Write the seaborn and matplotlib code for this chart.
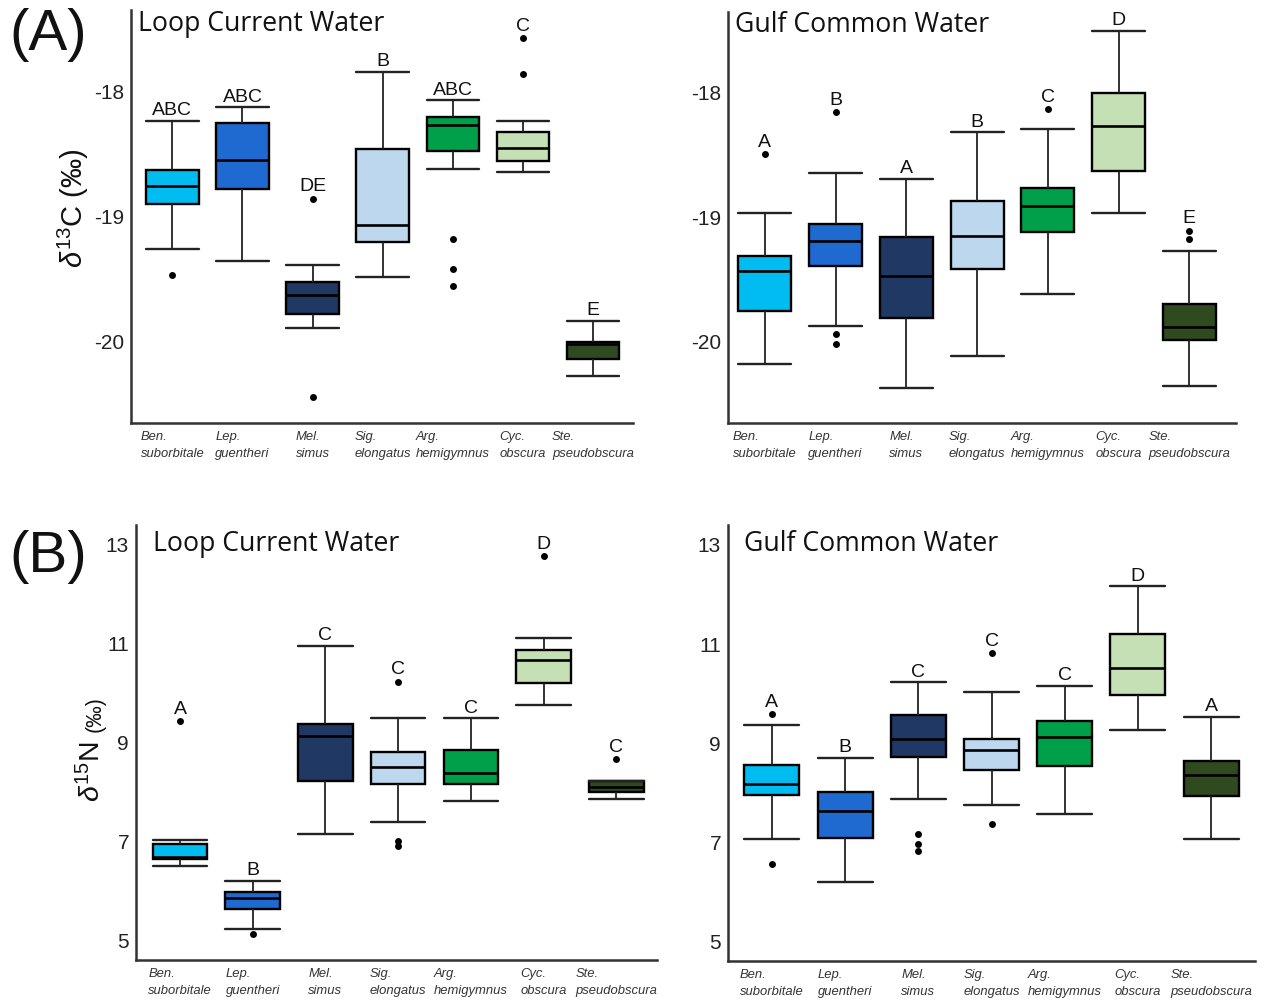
import numpy as np
import pandas as pd
import matplotlib
matplotlib.use("Agg")
import matplotlib.pyplot as plt
import seaborn as sns
from matplotlib import font_manager as fm

# ---------------- data ----------------
species = ["Ben.\nsuborbitale", "Lep.\nguentheri", "Mel.\nsimus", "Sig.\nelongatus",
           "Arg.\nhemigymnus", "Cyc.\nobscura", "Ste.\npseudobscura"]
colors = ["#00BCF0", "#1F6AD0", "#203864", "#BDD7EE", "#00A04B", "#C5E0B4", "#2F4A1E"]

# (A) d13C, Loop Current Water
c_lcw_lo = [-19.257, -19.358, -19.890, -19.479, -18.615, -18.644, -20.273]
c_lcw_q1 = [-18.895, -18.781, -19.783, -19.203, -18.476, -18.556, -20.139]
c_lcw_med = [-18.757, -18.548, -19.626, -19.070, -18.262, -18.452, -20.019]
c_lcw_q3 = [-18.630, -18.249, -19.519, -18.455, -18.200, -18.321, -20.000]
c_lcw_hi = [-18.233, -18.123, -19.390, -17.840, -18.067, -18.233, -19.832]
c_lcw_out = {0: [-19.465], 2: [-18.856, -20.440], 4: [-19.176, -19.417, -19.559],
             5: [-17.572, -17.858]}
c_lcw_letters = ["ABC", "ABC", "DE", "B", "ABC", "C", "E"]

# (A) d13C, Gulf Common Water
c_gcw_lo = [-20.182, -19.874, -20.375, -20.115, -19.620, -18.969, -20.356]
c_gcw_q1 = [-19.754, -19.390, -19.807, -19.419, -19.116, -18.629, -19.987]
c_gcw_med = [-19.432, -19.191, -19.473, -19.151, -18.908, -18.265, -19.885]
c_gcw_q3 = [-19.312, -19.055, -19.157, -18.870, -18.768, -18.005, -19.700]
c_gcw_hi = [-18.969, -18.648, -18.691, -18.319, -18.295, -17.502, -19.269]
c_gcw_out = {0: [-18.495], 1: [-18.153, -19.941, -20.021], 4: [-18.134],
             6: [-19.108, -19.173]}
c_gcw_letters = ["A", "B", "A", "B", "C", "D", "E"]

# (B) d15N, Loop Current Water
n_lcw_lo = [6.497, 5.230, 7.144, 7.380, 7.811, 9.752, 7.852]
n_lcw_q1 = [6.632, 5.635, 8.216, 8.148, 8.155, 10.190, 7.993]
n_lcw_med = [6.686, 5.844, 9.132, 8.505, 8.384, 10.662, 8.088]
n_lcw_q3 = [6.942, 5.965, 9.375, 8.795, 8.842, 10.864, 8.222]
n_lcw_hi = [7.023, 6.194, 10.951, 9.489, 9.482, 11.113, 8.222]
n_lcw_out = {0: [9.422], 1: [5.116], 3: [10.224, 7.003, 6.902], 5: [12.764], 6: [8.654]}
n_lcw_letters = ["A", "B", "C", "C", "C", "D", "C"]

# (B) d15N, Gulf Common Water
n_gcw_lo = [7.060, 6.201, 7.866, 7.752, 7.577, 9.262, 7.060]
n_gcw_q1 = [7.966, 7.094, 8.718, 8.470, 8.537, 9.980, 7.933]
n_gcw_med = [8.188, 7.644, 9.094, 8.872, 9.121, 10.510, 8.369]
n_gcw_q3 = [8.557, 8.013, 9.577, 9.094, 9.443, 11.208, 8.651]
n_gcw_hi = [9.362, 8.705, 10.228, 10.027, 10.161, 12.161, 9.530]
n_gcw_out = {0: [9.591, 6.557], 2: [7.161, 6.973, 6.826], 3: [10.819, 7.376]}
n_gcw_letters = ["A", "B", "C", "C", "C", "D", "A"]

c_ticks = [-20, -19, -18]
n_ticks = [5, 7, 9, 11, 13]

# ---------------- style ----------------
sns.set_style("white")
names = {f.name for f in fm.fontManager.ttflist}
narrow = "Liberation Sans Narrow" if "Liberation Sans Narrow" in names else "Liberation Sans"
plt.rcParams["font.family"] = ["Liberation Sans", "DejaVu Sans"]
plt.rcParams["mathtext.fontset"] = "custom"
plt.rcParams["mathtext.rm"] = "Liberation Sans"
plt.rcParams["mathtext.it"] = "Liberation Sans:italic"
title_font = "Open Sans" if "Open Sans" in names else "Liberation Sans"
xl_size = 11 if narrow != "Liberation Sans" else 9.4

W, H = 1268, 1002
fig = plt.figure(figsize=(W / 100, H / 100), dpi=100)


def rect(l, t, r, b):
    return [l / W, 1 - b / H, (r - l) / W, (b - t) / H]


def fx(x):
    return x / W


def fy(y):
    return 1 - y / H


def build(lo, q1, med, q3, hi):
    rows = []
    for sp, a, b, c, d, e in zip(species, lo, q1, med, q3, hi):
        for v in (a, b, b, c, d, d, e):
            rows.append((sp, v))
    return pd.DataFrame(rows, columns=["species", "value"])


def build_out(out):
    rows = [(species[i], v) for i, vals in out.items() for v in vals]
    return pd.DataFrame(rows, columns=["species", "value"])


def panel(r, lo, q1, med, q3, hi, out, letters, ylim, xlim, ticks, title, tpos):
    ax = fig.add_axes(rect(*r))
    df = build(lo, q1, med, q3, hi)
    sns.boxplot(data=df, x="species", y="value", order=species, hue="species",
                hue_order=species, palette=colors, legend=False, width=0.75,
                whis=(0, 100), showfliers=False, linecolor="black", linewidth=1.4,
                capwidths=0.75, saturation=1, ax=ax,
                medianprops=dict(linewidth=1.9, color="black"),
                boxprops=dict(linewidth=1.7, edgecolor="black"),
                capprops=dict(linewidth=1.7, color="#222222"),
                whiskerprops=dict(linewidth=1.3, color="#222222"))
    odf = build_out(out)
    sns.stripplot(data=odf, x="species", y="value", order=species, jitter=False,
                  color="black", size=5, ax=ax, zorder=5)
    for i, let in enumerate(letters):
        top = hi[i]
        off = 4.0
        if i in out and max(out[i]) > top:
            top = max(out[i])
            off = 5.2
        ax.annotate(let, (i, top), xytext=(0, off), textcoords="offset points",
                    ha="center", va="baseline", fontsize=14, color="#111111",
                    family=["Liberation Sans", "DejaVu Sans"])
    ax.set_ylim(*ylim)
    ax.set_xlim(*xlim)
    ax.set_yticks(ticks)
    ax.set_yticklabels([str(t) for t in ticks], family=[narrow, "DejaVu Sans"],
                       fontsize=15, color="#222222")
    ax.set_xticks(range(len(species)))
    ax.set_xticklabels(species, fontstyle="italic", family=[narrow, "DejaVu Sans"],
                       fontsize=xl_size, color="#333333", multialignment="left",
                       linespacing=1.55)
    ax.set_xlabel("")
    ax.set_ylabel("")
    for s in ("top", "right"):
        ax.spines[s].set_visible(False)
    for s in ("left", "bottom"):
        ax.spines[s].set_color("#333333")
        ax.spines[s].set_linewidth(1.8)
    ax.tick_params(axis="both", length=3, width=0.8, color="#888888", pad=2)
    ax.tick_params(axis="x", pad=2.5)
    fig.text(fx(tpos[0]), fy(tpos[1]), title, fontsize=19.2, family=title_font,
             ha="left", va="baseline", color="#111111")
    return ax


panel((131, 10, 633, 423), c_lcw_lo, c_lcw_q1, c_lcw_med, c_lcw_q3, c_lcw_hi,
      c_lcw_out, c_lcw_letters, (-20.652, -17.345), (-0.59, 6.57), c_ticks,
      "Loop Current Water", (138, 31))
panel((728, 12, 1236, 423), c_gcw_lo, c_gcw_q1, c_gcw_med, c_gcw_q3, c_gcw_hi,
      c_gcw_out, c_gcw_letters, (-20.653, -17.352), (-0.52, 6.66), c_ticks,
      "Gulf Common Water", (735, 32))
panel((136, 525, 657, 960), n_lcw_lo, n_lcw_q1, n_lcw_med, n_lcw_q3, n_lcw_hi,
      n_lcw_out, n_lcw_letters, (4.596, 13.39), (-0.605, 6.56), n_ticks,
      "Loop Current Water", (153, 551))
panel((728, 525, 1255, 961), n_gcw_lo, n_gcw_q1, n_gcw_med, n_gcw_q3, n_gcw_hi,
      n_gcw_out, n_gcw_letters, (4.61, 13.4), (-0.6, 6.6), n_ticks,
      "Gulf Common Water", (744, 551))

# panel letters and y labels
fig.text(fx(9), fy(50), "(A)", fontsize=42, ha="left", va="baseline", color="#111111")
fig.text(fx(9), fy(572), "(B)", fontsize=42, ha="left", va="baseline", color="#111111")
fig.text(fx(83), fy(268), r"$\delta^{13}$C (‰)", fontsize=21, rotation=90,
         rotation_mode="anchor", ha="left", va="baseline", color="#111111")
fig.text(fx(100), fy(802), r"$\delta^{15}$N", fontsize=20.5, rotation=90,
         rotation_mode="anchor", ha="left", va="baseline", color="#111111")
fig.text(fx(101), fy(732), "(‰)", fontsize=15.5, rotation=90,
         rotation_mode="anchor", ha="left", va="baseline", color="#111111")

fig.savefig("out.png", dpi=100, facecolor="white")
